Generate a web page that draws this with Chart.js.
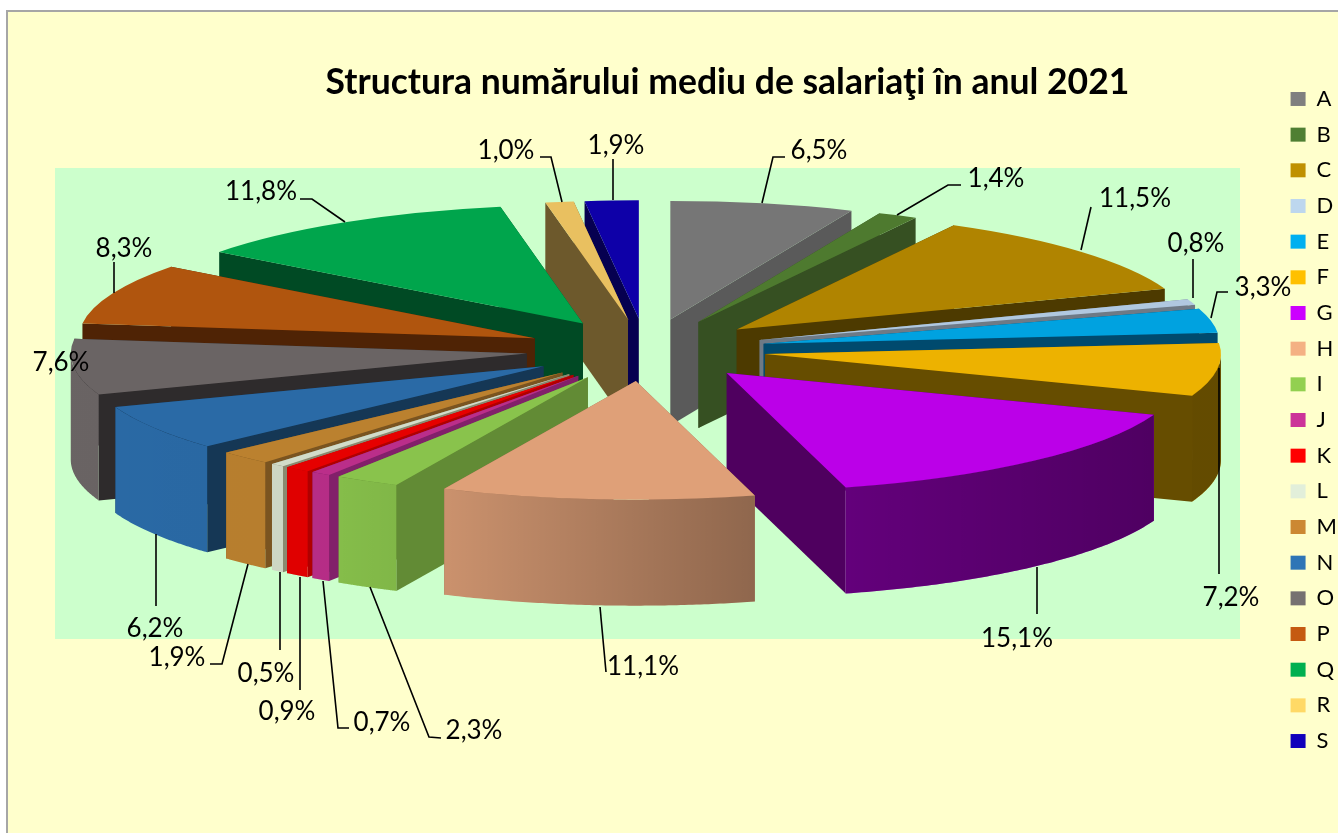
<!DOCTYPE html>
<html><head><meta charset="utf-8">
<style>html,body{margin:0;padding:0;background:#fff}#w{width:1338px;height:833px}canvas{display:block}</style>
<script src="https://cdn.jsdelivr.net/npm/chart.js@4"></script>
</head><body><div id="w"><canvas id="c" width="1338" height="833"></canvas></div>
<script>
const categories = ['A','B','C','D','E','F','G','H','I','J','K','L','M','N','O','P','Q','R','S'];
const shares = [6.5,1.4,11.5,0.8,3.3,7.2,15.1,11.1,2.3,0.7,0.9,0.5,1.9,6.2,7.6,8.3,11.8,1.0,1.9];
const titleText = 'Structura numărului mediu de salariaţi în anul 2021';
const legendColors = ['#7f7f7f','#4f7f33','#bf9000','#bdd7ee','#00b0f0','#ffc000','#cc00ff','#f4b183','#92d050','#cc3399','#ff0000','#e2efda','#cc8833','#2e75b6','#767171','#c55a11','#00b050','#ffd966','#1100bb'];
const topColors = ['#767676','#4e7a2f','#b08400','#b0c8e0','#00a2e0','#edb200','#bb00e8','#dfa078','#89c34c','#bb2e8a','#e60000','#d2dcc9','#bb812f','#2a6aa6','#6a6464','#b0550e','#00a54c','#e9c060','#0e00a8'];
const sideColors = ['#5a5a5a','#365022','#4d3a00','#6e7a86','#004a6e','#664d00','#4f005f','#8f674e','#628b35','#82206a','#b00000','#8a8a70','#7a5420','#153755','#2e2b2c','#4f2305','#004a24','#6d592c','#060050'];
// label anchors and leader polylines (annotation layout)
const labelAt = [[819,151],[996,179],[1135,199],[1196,244],[1263,288],[1231,598],[1017,639],[643,667],[474,731],[382,723],[287,712],[266,674],[177,658],[155,629],[61,363],[124,249],[261,192],[506,151],[616,146]];
const leaders = [
 [[762,203],[773,157],[785,157]],[[897,215],[948,185],[961,185]],[[1081,250],[1091,207]],[[1193,298],[1193,259]],
 [[1211,318],[1217,292],[1228,292]],[[1219,368],[1219,574]],[[1037,567],[1037,614]],[[600,607],[606,672]],
 [[370,587],[429,737],[441,738]],[[323,581],[338,728],[349,728]],[[300,577],[300,690]],[[280,572],[280,650]],
 [[248,564],[222,664],[210,664]],[[156,534],[156,606]],[],[[114,262],[114,293]],
 [[300,199],[312,199],[345,222]],[[540,157],[551,157],[562,202]],[[613,159],[613,200]]];
const PIE = {cx:646, cy:350, radius:456, explode:120, flat:0.26, depth:106};
const UI = 'Lato, "Open Sans", sans-serif';

const pie3d = {
  id:'pie3d',
  beforeDraw(chart){
    const c = chart.ctx; c.save();
    c.fillStyle='#fff'; c.fillRect(0,0,1338,833);
    c.fillStyle='#FFFFCC'; c.fillRect(7,11,1331,822);
    c.strokeStyle='#a6a6a6'; c.lineWidth=2;
    c.beginPath(); c.moveTo(7,833); c.lineTo(7,11); c.lineTo(1338,11); c.stroke();
    c.fillStyle='#CCFFCC'; c.fillRect(55,168,1185,471);
    c.restore();
  },
  beforeDatasetDraw(chart,args){
    const c = chart.ctx, els = chart.getDatasetMeta(args.index).data;
    const shade = c.createLinearGradient(0,0,1338,0);
    [[0,0],[340,.03],[443,.09],[757,.36],[847,.47],[1158,.58],[1338,.58]].forEach(s=>shade.addColorStop(s[0]/1338,'rgba(0,0,0,'+s[1]+')'));
    const order = els.map((e,i)=>i).sort((a,b)=>Math.sin((els[a].startAngle+els[a].endAngle)/2)-Math.sin((els[b].startAngle+els[b].endAngle)/2));
    order.forEach(i=>{
      const e = els[i], mid=(e.startAngle+e.endAngle)/2, R=e.outerRadius;
      const px = PIE.cx+PIE.explode*Math.cos(mid), py = PIE.cy+PIE.explode*PIE.flat*Math.sin(mid);
      const P = (a,d)=>[px+R*Math.cos(a), py+R*PIE.flat*Math.sin(a)+d];
      // radial walls, further edge first
      const edges=[e.startAngle,e.endAngle].sort((a,b)=>Math.sin(a)-Math.sin(b));
      edges.forEach(a=>{
        const q=P(a,0), r=P(a,PIE.depth);
        c.beginPath(); c.moveTo(px,py); c.lineTo(q[0],q[1]); c.lineTo(r[0],r[1]); c.lineTo(px,py+PIE.depth); c.closePath();
        c.fillStyle=sideColors[i]; c.fill();
      });
      // outer wall: front-facing part of the rim only
      const n=80, front=[];
      for(let k=0;k<=n;k++){const a=e.startAngle+(e.endAngle-e.startAngle)*k/n; if(Math.sin(a)>=-0.001) front.push(a);}
      if(front.length>1){
        c.beginPath();
        front.forEach((a,k)=>{const p=P(a,0); k?c.lineTo(p[0],p[1]):c.moveTo(p[0],p[1]);});
        front.slice().reverse().forEach(a=>{const p=P(a,PIE.depth); c.lineTo(p[0],p[1]);});
        c.closePath(); c.fillStyle=topColors[i]; c.fill(); c.fillStyle=shade; c.fill();
      }
      // top face: the library's own arc element
      c.save(); c.translate(px,py); c.scale(1,PIE.flat); c.translate(-e.x,-e.y); e.draw(c); c.restore();
    });
    return false;
  },
  afterDatasetsDraw(chart){
    const c=chart.ctx; c.save();
    c.strokeStyle='#000'; c.lineWidth=1.6;
    leaders.forEach(l=>{ if(!l.length) return; c.beginPath(); l.forEach((p,k)=>k?c.lineTo(p[0],p[1]):c.moveTo(p[0],p[1])); c.stroke(); });
    c.fillStyle='#000'; c.font='26px '+UI; c.textAlign='center'; c.textBaseline='middle';
    shares.forEach((v,i)=>c.fillText(v.toFixed(1).replace('.',',')+'%',labelAt[i][0],labelAt[i][1]));
    c.restore();
  }
};

new Chart(document.getElementById('c'),{
  type:'pie',
  data:{labels:categories,datasets:[{data:shares,backgroundColor:topColors,borderWidth:0,radius:PIE.radius}]},
  plugins:[pie3d],
  options:{
    responsive:false,animation:false,
    layout:{padding:{left:178,right:-9,top:7,bottom:0}},
    plugins:{
      tooltip:{enabled:false},
      title:{display:true,text:titleText,fullSize:false,color:'#000',font:{family:UI,size:35.5,weight:'bold'},padding:{top:54,bottom:20}},
      legend:{position:'right',align:'center',labels:{boxWidth:15,boxHeight:14,padding:13.67,color:'#000',font:{family:UI,size:22},
        generateLabels(){return categories.map((t,i)=>({text:t,fillStyle:legendColors[i],strokeStyle:legendColors[i],lineWidth:0,index:i,hidden:false,fontColor:'#000'}));}}}
    }
  }
});
</script></body></html>
